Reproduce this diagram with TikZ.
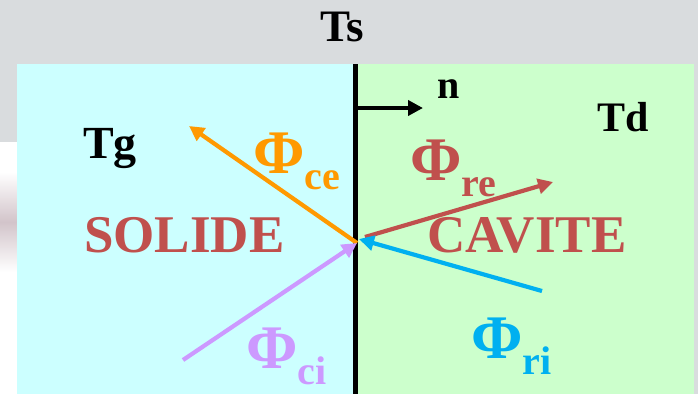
\documentclass[tikz,border=0pt]{standalone}
\usepackage{fontspec}
\setmainfont{Liberation Serif}
\usepackage{tikz}
\usetikzlibrary{arrows.meta}

\definecolor{bggray}{HTML}{D9DCDE}
\definecolor{solidcol}{HTML}{CCFFFF}
\definecolor{cavcol}{HTML}{CCFFCC}
\definecolor{redcol}{HTML}{C0504D}
\definecolor{orangecol}{HTML}{FF9900}
\definecolor{purplecol}{HTML}{CC99FF}
\definecolor{bluecol}{HTML}{00B0F0}
\definecolor{photocol}{HTML}{D2C4CA}

\newcommand{\fsz}[1]{\bfseries\fontsize{#1}{#1}\selectfont}
\newcommand{\flux}[1]{\fsz{62}Φ\raisebox{-16pt}{\fsz{40}#1}}

\begin{document}
\begin{tikzpicture}[x=1pt,y=-1pt,
  flow/.style={line width=4.2pt, -{Triangle[length=15pt,width=15pt]}},
  lbl/.style={anchor=base west, inner sep=0pt}]
\useasboundingbox (0,0) rectangle (698,394);
\fill[bggray] (0,0) rectangle (698,394);

% photo strip on the left edge
\fill[white] (0,142) rectangle (17,394);
\shade[top color=white, bottom color=photocol] (0,172) rectangle (17,222);
\shade[top color=photocol, bottom color=white] (0,222) rectangle (17,272);

% the two media
\fill[solidcol] (17,64) rectangle (355,394);
\fill[cavcol] (355,64) rectangle (694,394);
\coordinate (Top) at (355,64);
\coordinate (Bot) at (355,394);
\draw[line width=5pt] (Top) -- (Bot);

% normal
\coordinate (N0) at (353,108);
\coordinate (N1) at (423,108);
\draw[line width=4pt, -{Triangle[length=15pt,width=15pt]}] (N0) -- (N1);
\node[lbl] (n) at (437,98) {\fsz{40}n};

% temperatures
\node[anchor=base, inner sep=0pt] (Ts) at (342,41) {\fsz{45}Ts};
\node[lbl] (Tg) at (83,158) {\fsz{46}Tg};
\node[lbl] (Td) at (597,131) {\fsz{42}Td};

% media names
\node[lbl, text=redcol] (solide) at (84,252) {\fsz{53}SOLIDE};
\node[lbl, text=redcol] (cavite) at (427,252) {\fsz{53}CAVITE};

% flux arrows
\coordinate (O) at (357,243);
\coordinate (Ece) at (189,126);
\coordinate (Sci) at (183,360);
\coordinate (Ore) at (365,237);
\coordinate (Ere) at (553,182);
\coordinate (Sri) at (542,291);
\coordinate (Ori) at (359,239);
\draw[flow, orangecol] (O) -- (Ece);
\draw[flow, purplecol] (Sci) -- (O);
\draw[flow, redcol] (Ore) -- (Ere);
\draw[flow, bluecol] (Sri) -- (Ori);

\node[lbl, text=orangecol] (phice) at (253,173) {\flux{ce}};
\node[lbl, text=redcol] (phire) at (410,180) {\flux{re}};
\node[lbl, text=purplecol] (phici) at (246,368) {\flux{ci}};
\node[lbl, text=bluecol] (phiri) at (471,358) {\flux{ri}};
\end{tikzpicture}
\end{document}
